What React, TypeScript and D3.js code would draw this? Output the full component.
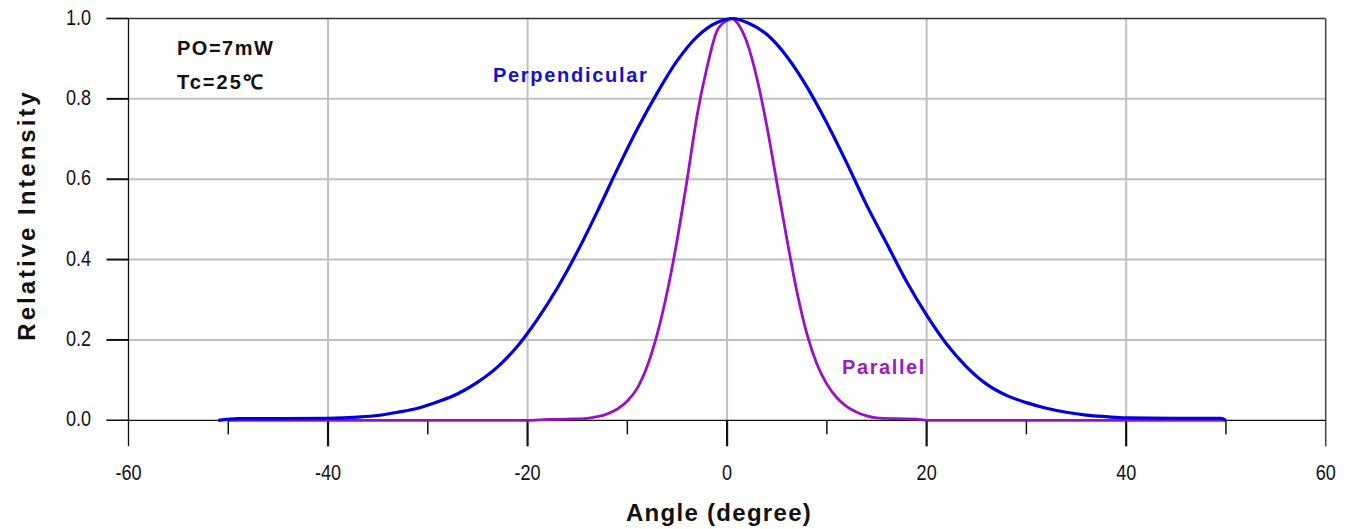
import React from "react";
import * as d3 from "d3";

const perpAngles = [-51, -49, -45, -40, -37, -35, -33, -31, -29, -27, -25, -23, -21, -19, -17, -15, -13, -11, -9, -7, -5, -3, -1, 0.6, 2, 4, 6, 8, 10, 12, 14, 16, 18, 20, 22, 24, 26, 28, 30, 32, 34, 36, 38, 40, 45, 49.5, 50];
const perpValues = [0.0, 0.004, 0.004, 0.005, 0.008, 0.012, 0.02, 0.03, 0.046, 0.066, 0.095, 0.133, 0.185, 0.252, 0.33, 0.42, 0.52, 0.625, 0.725, 0.815, 0.895, 0.955, 0.99, 1.0, 0.99, 0.96, 0.905, 0.83, 0.74, 0.64, 0.535, 0.44, 0.345, 0.262, 0.19, 0.133, 0.09, 0.062, 0.044, 0.03, 0.02, 0.013, 0.009, 0.006, 0.005, 0.005, 0.0];

const paraAngles = [-50, -20, -18, -16, -14, -13, -12, -11, -10, -9, -8, -7, -6, -5, -4, -3, -2, -1, 0, 0.5, 1, 2, 3, 4, 5, 6, 7, 8, 9, 10, 11, 12, 13, 14, 15, 17, 19, 20, 50];
const paraValues = [0, 0, 0.002, 0.003, 0.005, 0.009, 0.016, 0.028, 0.048, 0.08, 0.135, 0.215, 0.32, 0.45, 0.6, 0.76, 0.88, 0.97, 0.995, 1.0, 0.99, 0.94, 0.85, 0.73, 0.59, 0.45, 0.32, 0.215, 0.14, 0.09, 0.056, 0.034, 0.02, 0.011, 0.006, 0.004, 0.003, 0, 0];

const xMajorTicks = [-60, -40, -20, 0, 20, 40, 60];
const xMinorTicks = [-50, -30, -10, 10, 30, 50];
const yTicks = [0, 0.2, 0.4, 0.6, 0.8, 1.0];

const W = 1350, H = 529;
const L = 128.5, R = 1325.7, T = 18.5, B = 420.3;

export default function App() {
  const x = d3.scaleLinear().domain([-60, 60]).range([L, R]);
  const y = d3.scaleLinear().domain([0, 1]).range([B, T]);
  const line = d3.line<[number, number]>().x(d => x(d[0])).y(d => y(d[1])).curve(d3.curveMonotoneX);
  const perp = perpAngles.map((a, i) => [a, perpValues[i]] as [number, number]);
  const para = paraAngles.map((a, i) => [a, paraValues[i]] as [number, number]);
  const font = "'Liberation Sans', Arial, sans-serif";
  return (
    <svg width={W} height={H} style={{ position: "absolute", left: 0, top: 0, background: "#fff" }} fontFamily={font}>
      {/* grid */}
      {xMajorTicks.filter(t => t > -60 && t < 60).map(t => (
        <line key={"gx" + t} x1={x(t)} x2={x(t)} y1={T} y2={B} stroke="#c0c0c0" strokeWidth={2} />
      ))}
      {yTicks.filter(t => t > 0 && t < 1).map(t => (
        <line key={"gy" + t} x1={L} x2={R} y1={y(t)} y2={y(t)} stroke="#c0c0c0" strokeWidth={2} />
      ))}
      {/* frame */}
      <line x1={L - 22} x2={R} y1={T} y2={T} stroke="#333" strokeWidth={1.5} />
      <line x1={R} x2={R} y1={T} y2={B + 26} stroke="#444" strokeWidth={1.5} />
      <line x1={L} x2={L} y1={T} y2={B + 26} stroke="#111" strokeWidth={1.3} />
      <line x1={L - 22} x2={R} y1={B} y2={B} stroke="#111" strokeWidth={1.3} />
      {/* y ticks */}
      {yTicks.map(t => (
        <g key={"yt" + t}>
          <line x1={L - 22} x2={L} y1={y(t)} y2={y(t)} stroke="#111" strokeWidth={t === 0 || t === 1 ? 1.3 : 2} />
          <text transform={`translate(91,${y(t) - 1.5}) scale(0.95,1.12)`} dy="0.36em" textAnchor="end" fontSize={19} fill="#111">{t.toFixed(1)}</text>
        </g>
      ))}
      {/* x ticks */}
      {xMajorTicks.map(t => (
        <g key={"xt" + t}>
          {t > -60 && t < 60 && <line x1={x(t)} x2={x(t)} y1={B} y2={B + 26} stroke="#111" strokeWidth={2.2} />}
          <text transform={`translate(${x(t)},${B + 52}) scale(0.95,1.12)`} dy="0.36em" textAnchor="middle" fontSize={19} fill="#111">{t}</text>
        </g>
      ))}
      {xMinorTicks.map(t => (
        <line key={"xm" + t} x1={x(t)} x2={x(t)} y1={B} y2={B + 14} stroke="#111" strokeWidth={1.5} />
      ))}
      {/* curves */}
      <path d={line(para) || ""} fill="none" stroke="#9910c8" strokeWidth={2.8} />
      <path d={line(perp) || ""} fill="none" stroke="#0000e0" strokeWidth={3.2} />
      {/* annotations */}
      <text x={177} y={48} dy="0.36em" fontSize={20} fontWeight="bold" fill="#111" letterSpacing={1.5}>PO=7mW</text>
      <text x={177} y={82} dy="0.36em" fontSize={20} fontWeight="bold" fill="#111" letterSpacing={2}>Tc=25℃</text>
      <text x={493} y={75} dy="0.36em" fontSize={20} fontWeight="bold" fill="#1212d2" letterSpacing={1.7}>Perpendicular</text>
      <text x={842} y={367} dy="0.36em" fontSize={20} fontWeight="bold" fill="#9a1ac8" letterSpacing={1.6}>Parallel</text>
      {/* axis titles */}
      <text x={719} y={512} dy="0.36em" textAnchor="middle" fontSize={24} fontWeight="bold" fill="#111" letterSpacing={1.3}>Angle (degree)</text>
      <text transform={`translate(26,215) rotate(-90)`} dy="0.36em" textAnchor="middle" fontSize={24} fontWeight="bold" fill="#111" letterSpacing={3}>Relative Intensity</text>
    </svg>
  );
}
